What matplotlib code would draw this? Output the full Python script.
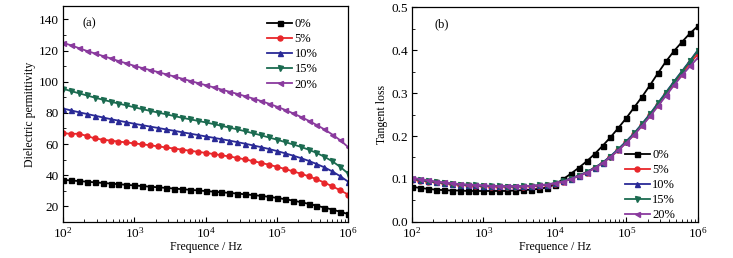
import numpy as np
import matplotlib
matplotlib.use('Agg')
import matplotlib.pyplot as plt
from matplotlib.ticker import MultipleLocator, LogLocator, NullFormatter

plt.rcParams['font.family'] = ['Liberation Serif', 'DejaVu Serif']
plt.rcParams['mathtext.fontset'] = 'stix'
plt.rcParams['font.size'] = 8.5

# frequencies (Hz), 9 points per decade from 1e2 to 1e6
freq = np.logspace(2, 6, 37)

labels = ['0%', '5%', '10%', '15%', '20%']
colors = ['#000000', '#e8262a', '#2a2a96', '#1b6b50', '#8a3a9e']
markers = ['s', 'o', '^', 'v', '<']

# (a) dielectric permittivity
eps_0 = [37.0, 36.6, 36.2, 35.8, 35.4, 35.0, 34.6, 34.2, 33.8,
         33.4, 33.0, 32.6, 32.2, 31.8, 31.4, 31.0, 30.6, 30.2,
         29.8, 29.4, 29.0, 28.6, 28.2, 27.7, 27.2, 26.7, 26.1,
         25.4, 24.6, 23.7, 22.7, 21.6, 20.4, 19.2, 17.9, 16.5, 15.0]
eps_5 = [67.0, 66.5, 66.6, 65.2, 63.6, 62.8, 62.2, 61.6, 61.0,
         60.4, 59.8, 59.2, 58.5, 57.8, 57.1, 56.4, 55.7, 55.0,
         54.3, 53.6, 52.8, 52.0, 51.1, 50.1, 49.0, 47.9, 46.7,
         45.4, 44.0, 42.5, 41.0, 39.3, 37.4, 35.2, 32.8, 30.3, 27.5]
eps_10 = [82.8, 81.6, 80.4, 79.3, 78.2, 77.1, 76.0, 75.0, 74.0,
          73.0, 72.1, 71.2, 70.3, 69.4, 68.5, 67.6, 66.7, 65.8,
          64.9, 64.0, 63.1, 62.2, 61.2, 60.2, 59.1, 58.0, 56.8,
          55.5, 54.1, 52.6, 51.0, 49.2, 47.2, 45.0, 42.4, 39.3, 35.8]
eps_15 = [95.5, 94.0, 92.6, 91.2, 89.8, 88.5, 87.2, 86.0, 84.8,
          83.6, 82.4, 81.3, 80.2, 79.1, 78.0, 76.9, 75.9, 74.9,
          73.9, 72.8, 71.7, 70.6, 69.4, 68.2, 66.9, 65.6, 64.2,
          62.8, 61.3, 59.8, 58.2, 56.4, 54.3, 51.8, 48.9, 45.3, 41.0]
eps_20 = [125.0, 123.4, 121.6, 119.8, 118.2, 116.6, 115.0, 113.3, 111.8,
          110.2, 108.8, 107.5, 106.2, 104.8, 103.4, 102.0, 100.6, 99.2,
          97.8, 96.4, 95.0, 93.6, 92.2, 90.7, 89.2, 87.6, 85.9,
          84.0, 82.0, 79.8, 77.5, 75.0, 72.3, 69.4, 66.1, 62.4, 58.0]

# (b) tangent loss
tan_0 = [0.082, 0.079, 0.077, 0.075, 0.074, 0.073, 0.073, 0.072, 0.072,
         0.072, 0.072, 0.072, 0.072, 0.073, 0.074, 0.075, 0.077, 0.080,
         0.087, 0.099, 0.112, 0.126, 0.141, 0.158, 0.177, 0.197, 0.219,
         0.242, 0.267, 0.292, 0.319, 0.347, 0.374, 0.398, 0.419, 0.439, 0.456]
tan_5 = [0.098, 0.096, 0.094, 0.092, 0.090, 0.088, 0.086, 0.085, 0.084,
         0.083, 0.082, 0.082, 0.082, 0.082, 0.082, 0.083, 0.084, 0.086,
         0.089, 0.094, 0.100, 0.107, 0.115, 0.125, 0.137, 0.151, 0.167,
         0.185, 0.204, 0.225, 0.248, 0.272, 0.297, 0.321, 0.345, 0.369, 0.391]
tan_10 = [0.101, 0.098, 0.095, 0.093, 0.091, 0.089, 0.087, 0.086, 0.085,
          0.084, 0.083, 0.083, 0.083, 0.083, 0.083, 0.084, 0.085, 0.087,
          0.090, 0.095, 0.101, 0.108, 0.116, 0.126, 0.138, 0.153, 0.170,
          0.188, 0.207, 0.229, 0.252, 0.277, 0.302, 0.327, 0.351, 0.375, 0.400]
tan_15 = [0.100, 0.098, 0.095, 0.093, 0.091, 0.089, 0.087, 0.086, 0.085,
          0.084, 0.083, 0.083, 0.082, 0.082, 0.083, 0.084, 0.085, 0.087,
          0.090, 0.095, 0.100, 0.107, 0.116, 0.126, 0.138, 0.152, 0.169,
          0.187, 0.206, 0.228, 0.251, 0.276, 0.301, 0.326, 0.350, 0.374, 0.399]
tan_20 = [0.103, 0.100, 0.097, 0.094, 0.092, 0.090, 0.088, 0.087, 0.086,
          0.085, 0.084, 0.083, 0.083, 0.083, 0.083, 0.084, 0.085, 0.087,
          0.090, 0.094, 0.100, 0.107, 0.115, 0.125, 0.137, 0.151, 0.167,
          0.184, 0.203, 0.224, 0.246, 0.270, 0.294, 0.318, 0.341, 0.362, 0.382]

eps_all = [eps_0, eps_5, eps_10, eps_15, eps_20]
tan_all = [tan_0, tan_5, tan_10, tan_15, tan_20]

fig = plt.figure(figsize=(7.33, 2.58), dpi=100)
ax1 = fig.add_axes([0.086, 0.140, 0.389, 0.836])
ax2 = fig.add_axes([0.562, 0.140, 0.390, 0.832])

for y, lab, c, m in zip(eps_all, labels, colors, markers):
    ax1.plot(freq, y, color=c, marker=m, markersize=3.6, linewidth=1.3, label=lab)
for y, lab, c, m in zip(tan_all, labels, colors, markers):
    ax2.plot(freq, y, color=c, marker=m, markersize=3.6, linewidth=1.3, label=lab)

for ax in (ax1, ax2):
    ax.set_xscale('log')
    ax.set_xlim(1e2, 1e6)
    ax.xaxis.set_major_locator(LogLocator(base=10, numticks=10))
    ax.xaxis.set_minor_locator(LogLocator(base=10, subs=np.arange(2, 10), numticks=20))
    ax.xaxis.set_minor_formatter(NullFormatter())
    ax.tick_params(which='both', direction='in', top=False, right=False)
    ax.tick_params(which='major', length=3.5, width=0.8, pad=3, labelsize=9.5)
    ax.tick_params(which='minor', length=2, width=0.6)
    ax.set_xlabel('Frequence / Hz', labelpad=0)
    for s in ax.spines.values():
        s.set_linewidth(0.9)

ax1.set_ylim(10, 148.5)
ax1.yaxis.set_major_locator(MultipleLocator(20))
ax1.yaxis.set_minor_locator(MultipleLocator(10))
ax1.set_ylabel('Dielectric permittivity', labelpad=2)
ax1.text(0.07, 0.905, '(a)', transform=ax1.transAxes, fontsize=9)
ax1.legend(loc='upper left', bbox_to_anchor=(0.716, 0.945), frameon=False,
           borderpad=0, borderaxespad=0, handlelength=2.0, handletextpad=0.2,
           labelspacing=0.25, fontsize=9)

ax2.set_ylim(0, 0.5)
ax2.yaxis.set_major_locator(MultipleLocator(0.1))
ax2.yaxis.set_minor_locator(MultipleLocator(0.05))
ax2.set_ylabel('Tangent loss', labelpad=2)
ax2.text(0.08, 0.905, '(b)', transform=ax2.transAxes, fontsize=9)
ax2.legend(loc='upper left', bbox_to_anchor=(0.745, 0.34), frameon=False,
           borderpad=0, borderaxespad=0, handlelength=2.0, handletextpad=0.2,
           labelspacing=0.25, fontsize=9)

fig.savefig('out.png', dpi=100)
